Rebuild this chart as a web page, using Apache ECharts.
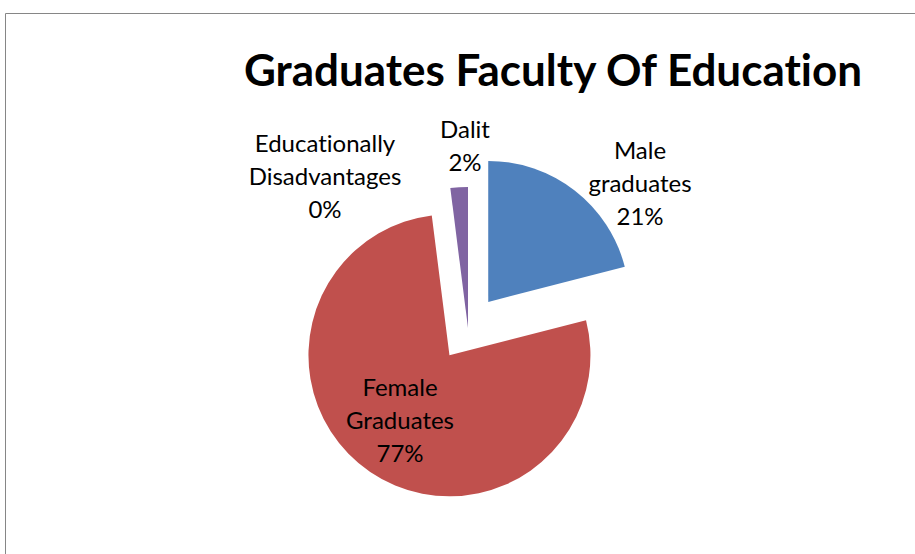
<!DOCTYPE html>
<html>
<head>
<meta charset="utf-8">
<script src="https://cdn.jsdelivr.net/npm/echarts@6/dist/echarts.min.js"></script>
<style>
  html, body { margin: 0; padding: 0; background: #fff; }
  #chart { width: 915px; height: 554px; }
  #chart text { font-variant-ligatures: none !important; font-feature-settings: "liga" 0, "clig" 0 !important; }
</style>
</head>
<body>
<div id="chart"></div>
<script>
// data
const categories = ["Male graduates", "Female Graduates", "Educationally Disadvantages", "Dalit"];
const values = [21, 77, 0, 2];
const labelLines = [
  ["Male", "graduates"],
  ["Female", "Graduates"],
  ["Educationally", "Disadvantages"],
  ["Dalit"]
];
const exploded = [true, true, false, false];

// label anchor spots (layout only)
const labelSpots = [[640, 133], [400, 370], [325, 126], [465, 112]];
const colors = ["#4F81BD", "#C0504D", "#9BBB59", "#8064A2"];
const font = "Lato, 'Open Sans', sans-serif";

const total = values.reduce((a, b) => a + b, 0);

const chart = echarts.init(document.getElementById("chart"), null, { renderer: "svg" });

const labelGraphics = categories.map((c, i) => ({
  type: "text",
  z: 10,
  x: labelSpots[i][0],
  y: labelSpots[i][1],
  style: {
    text: labelLines[i].concat([Math.round(values[i] / total * 100) + "%"]).join("\n"),
    fill: "#000",
    font: "24px " + font,
    lineHeight: 33,
    align: "center",
    verticalAlign: "top"
  }
}));

chart.setOption({
  animation: false,
  color: colors,
  graphic: [
    {
      type: "rect",
      shape: { x: 5.5, y: 13.5, width: 2000, height: 2000 },
      style: { fill: "none", stroke: "#868686", lineWidth: 1 }
    },
    {
      type: "text",
      x: 553,
      y: 69,
      style: {
        text: "Graduates Faculty Of Education",
        fill: "#000",
        font: "bold 44px " + font,
        align: "center",
        verticalAlign: "middle"
      }
    }
  ].concat(labelGraphics),
  series: [
    {
      type: "pie",
      center: [468, 328],
      radius: 141,
      startAngle: 90,
      clockwise: true,
      selectedMode: "multiple",
      selectedOffset: 33,
      label: { show: false },
      labelLine: { show: false },
      emphasis: { disabled: true },
      data: categories.map((c, i) => ({
        name: c,
        value: values[i],
        selected: exploded[i]
      }))
    }
  ]
});
</script>
</body>
</html>
